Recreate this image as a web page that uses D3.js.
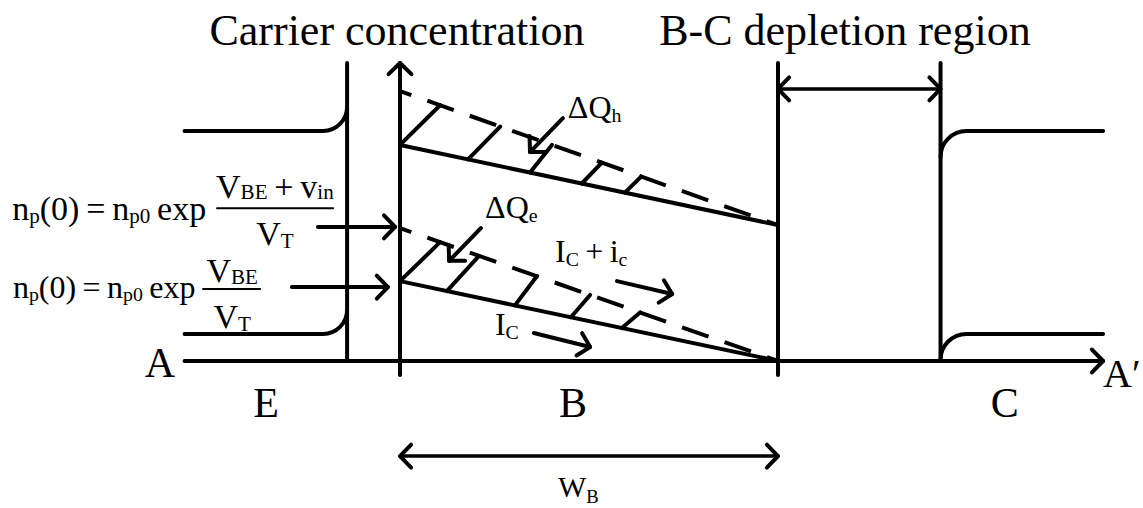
<!DOCTYPE html>
<html>
<head>
<meta charset="utf-8">
<script src="https://cdn.jsdelivr.net/npm/d3@7"></script>
<style>
  body { margin: 0; background: #fff; }
  svg text { font-family: "Liberation Serif", "Times New Roman", serif; fill: #000; }
</style>
</head>
<body>
<svg id="chart" width="1143" height="508"></svg>
<script>
// Position along the device: base runs 0..100. Concentration: 0 at the A-A' axis.
const axisExtent = [-57, 186];
const boundaryPos = [-14, 0, 100, 143];          // emitter edge, base start, base end, depletion edge
const boundaryTop = [100, 100, 100, 100];
const boundaryBottom = [0, -4.7, -4.7, 0];
const sideLevels = [77.2, 9.1];                  // emitter / collector levels
const regionLabels = ["E", "B", "C"];
const regionLabelPos = [-35.4, 45.8, 160];

// carrier profiles across the base (values at x = 0 and x = 100)
const profileX = [0, 100];
const holeSteady = [72.5, 45.6];
const holeSignal = [90.6, 45.6];
const electronSteady = [26.8, 0];
const electronSignal = [44.6, 0];

// hatching between steady and signal profiles
const holeHatchBase = [0, 18, 34.4, 48.1, 59.5];
const holeHatchTop = [10.6, 26.5, 40.2, 53.4, 63.8];
const electronHatchBase = [0, 12.4, 30.4, 45.2, 58.7];
const electronHatchTop = [10.6, 20.9, 36.2, 50.3, 63.5];

let x = d3.scaleLinear().domain([0, 100]).range([400, 778]);
let y = d3.scaleLinear().domain([0, 100]).range([361, 63]);

let svg = d3.select("#chart");
let g = svg.append("g")
    .attr("fill", "none")
    .attr("stroke", "#000")
    .attr("stroke-linecap", "round")
    .attr("stroke-linejoin", "round");

// Open chevron arrow head.
function arrowHead(px, py, angle, len) {
    let a1 = angle + Math.PI - 0.8, a2 = angle + Math.PI + 0.8;
    g.append("path")
        .attr("stroke-width", 4)
        .attr("d", `M${px + len * Math.cos(a1)},${py + len * Math.sin(a1)}L${px},${py}L${px + len * Math.cos(a2)},${py + len * Math.sin(a2)}`);
}

function arrow(x1, y1, x2, y2, width, both) {
    let p1 = [x(x1), y(y1)], p2 = [x(x2), y(y2)];
    g.append("line")
        .attr("x1", p1[0]).attr("y1", p1[1])
        .attr("x2", p2[0]).attr("y2", p2[1])
        .attr("stroke-width", width);
    let ang = Math.atan2(p2[1] - p1[1], p2[0] - p1[0]);
    arrowHead(p2[0], p2[1], ang, 16);
    if (both) arrowHead(p1[0], p1[1], ang + Math.PI, 16);
}

// A-A' axis
arrow(axisExtent[0], 0, axisExtent[1], 0, 4, false);

// vertical boundaries
boundaryPos.forEach((b, i) => {
    g.append("line")
        .attr("x1", x(b)).attr("x2", x(b))
        .attr("y1", y(boundaryTop[i])).attr("y2", y(boundaryBottom[i]))
        .attr("stroke-width", 4);
});
arrowHead(x(0), y(100), -Math.PI / 2, 16);

// emitter and collector carrier levels with rounded corners
let r = 24;
sideLevels.forEach((lv, i) => {
    let p = d3.path();
    p.moveTo(x(axisExtent[0]), y(lv));
    p.arcTo(x(boundaryPos[0]), y(lv), x(boundaryPos[0]), y(lv) - r, r);
    g.append("path").attr("d", p.toString()).attr("stroke-width", 4);

    let q = d3.path();
    q.moveTo(x(boundaryPos[3]), i === 0 ? y(lv) + 26 : y(0));
    q.arcTo(x(boundaryPos[3]), y(lv), x(axisExtent[1]), y(lv), 26);
    q.lineTo(x(axisExtent[1]), y(lv));
    g.append("path").attr("d", q.toString()).attr("stroke-width", 4);
});

// base profiles
let line = d3.line().x(d => x(d[0])).y(d => y(d[1]));
function profile(vals, dashed) {
    let path = g.append("path")
        .attr("d", line(profileX.map((px, i) => [px, vals[i]])))
        .attr("stroke-width", 4)
        .attr("stroke-linecap", "butt");
    if (dashed) path.attr("stroke-dasharray", "28 17").attr("stroke-dashoffset", 16);
}
profile(holeSteady, false);
profile(holeSignal, true);
profile(electronSteady, false);
profile(electronSignal, true);

function lerp(vals, px) { return vals[0] + (vals[1] - vals[0]) * px / 100; }
function hatch(bases, tops, low, high) {
    bases.forEach((b, i) => {
        g.append("line")
            .attr("x1", x(b)).attr("y1", y(lerp(low, b)))
            .attr("x2", x(tops[i])).attr("y2", y(lerp(high, tops[i])))
            .attr("stroke-width", 4);
    });
}
hatch(holeHatchBase, holeHatchTop, holeSteady, holeSignal);
hatch(electronHatchBase, electronHatchTop, electronSteady, electronSignal);

// annotation arrows
arrow(-21.7, 45, -1.3, 45, 4, false);
arrow(-28.6, 24.8, -3.2, 24.8, 4, false);
arrow(43.1, 81.5, 34.4, 70.1, 4, false);
arrow(21.4, 44.6, 13, 33.6, 4, false);
arrow(57.4, 26.8, 72, 22.5, 4, false);
arrow(35.4, 9.4, 50.3, 4.7, 4, false);
arrow(100, 91.3, 143, 91.3, 3.5, true);
arrow(0, -31.9, 100, -31.9, 3.5, true);

// text with subscripts: parts = [[text, isSub], ...]
function rich(px, py, parts, size, anchor, drop) {
    let t = svg.append("text")
        .attr("x", x(px)).attr("y", y(py))
        .attr("font-size", size)
        .attr("text-anchor", anchor || "start");
    let shift = size * (drop === undefined ? 0.12 : drop);
    let down = false;
    parts.forEach(pt => {
        let s = t.append("tspan").text(pt[0]);
        if (pt[1] && !down) { s.attr("dy", shift).attr("font-size", size * 0.62); down = true; }
        else if (pt[1]) { s.attr("font-size", size * 0.62); }
        else if (down) { s.attr("dy", -shift); down = false; }
    });
    return t;
}

rich(-0.8, 106, [["Carrier concentration"]], 44, "middle");
rich(117.7, 106, [["B-C depletion region"]], 44, "middle");
rich(-67.5, -5.4, [["A"]], 42);
rich(186, -8.7, [["A\u2032"]], 40);
regionLabels.forEach((lb, i) => rich(regionLabelPos[i], -18.8, [[lb]], 42, "middle"));
rich(41.8, -45.6, [["W"], ["B", true]], 30, "start", 0.2);

rich(44.4, 81.5, [["\u0394Q"], ["h", true]], 32);
rich(22.5, 48.0, [["\u0394Q"], ["e", true]], 32);
rich(41, 33.2, [["I"], ["C", true], ["\u2009+\u2009i"], ["c", true]], 32);
rich(25.1, 8.7, [["I"], ["C", true]], 32);

// n_p(0) formulas
let lead = [["n"], ["p", true], ["(0)\u2009=\u2009n"], ["p0", true], ["\u2009exp"]];
rich(-102.6, 47.3, lead, 34, "start", 0.08);
rich(-33.1, 54.8, [["V"], ["BE", true], ["\u2009+\u2009v"], ["in", true]], 34, "middle", 0.04);
rich(-33.1, 38.9, [["V"], ["T", true]], 34, "middle", 0.08);
g.append("line").attr("x1", x(-48.4)).attr("x2", x(-17.7)).attr("y1", y(51.3)).attr("y2", y(51.3)).attr("stroke-width", 2);

rich(-102.4, 21.1, lead, 32, "start", 0.08);
rich(-44.4, 26.4, [["V"], ["BE", true]], 34, "middle", 0.04);
rich(-44.4, 11.1, [["V"], ["T", true]], 34, "middle", 0.08);
g.append("line").attr("x1", x(-52.1)).attr("x2", x(-37)).attr("y1", y(24.2)).attr("y2", y(24.2)).attr("stroke-width", 2);
</script>
</body>
</html>
